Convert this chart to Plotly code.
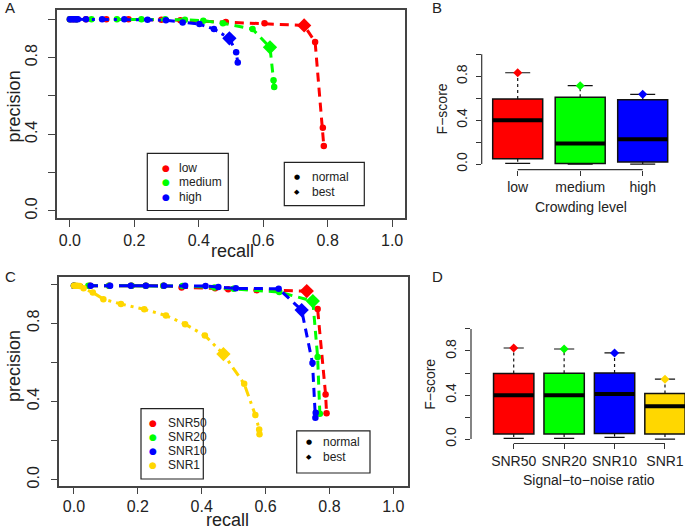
import plotly.graph_objects as go

W, H = 685, 531
FONT = "Liberation Sans"
TXT = "#222222"
RED, GREEN, BLUE, GOLD = "#FF0000", "#00FF00", "#0000FF", "#FFD700"

# ---------------- Panel A: precision / recall by crowding level ----------------
low_recall = [0.0, 0.01, 0.02, 0.05, 0.113, 0.182, 0.284, 0.343, 0.484, 0.604, 0.727, 0.761, 0.785, 0.788]
low_precision = [1.0, 1.0, 1.0, 1.0, 1.0, 1.0, 0.998, 0.995, 0.986, 0.979, 0.968, 0.882, 0.434, 0.339]
low_best = 10

medium_recall = [0.0, 0.02, 0.067, 0.146, 0.222, 0.296, 0.357, 0.414, 0.475, 0.567, 0.621, 0.632, 0.634]
medium_precision = [1.0, 1.0, 1.0, 1.0, 1.0, 1.0, 0.998, 0.993, 0.98, 0.949, 0.854, 0.682, 0.647]
medium_best = 10

high_recall = [0.0, 0.005, 0.01, 0.015, 0.02, 0.025, 0.05, 0.1, 0.169, 0.241, 0.298, 0.35, 0.402, 0.447, 0.495, 0.516, 0.521]
high_precision = [1.0, 1.0, 1.0, 1.0, 1.0, 1.0, 1.0, 1.0, 1.0, 0.998, 0.995, 0.984, 0.975, 0.949, 0.901, 0.828, 0.774]
high_best = 14

# ---------------- Panel C: precision / recall by signal-to-noise ratio ----------------
snr50_recall = [0.0, 0.05, 0.11, 0.18, 0.225, 0.28, 0.337, 0.442, 0.483, 0.572, 0.729, 0.763, 0.788, 0.791]
snr50_precision = [0.992, 0.992, 0.992, 0.992, 0.992, 0.992, 0.983, 0.978, 0.973, 0.969, 0.964, 0.872, 0.435, 0.339]
snr50_best = 10

snr20_recall = [0.0, 0.045, 0.11, 0.18, 0.225, 0.28, 0.34, 0.44, 0.5, 0.643, 0.748, 0.763, 0.77]
snr20_precision = [0.992, 0.992, 0.992, 0.992, 0.992, 0.992, 0.99, 0.982, 0.976, 0.959, 0.913, 0.627, 0.337]
snr20_best = 10

snr10_recall = [0.0, 0.052, 0.113, 0.178, 0.225, 0.282, 0.348, 0.412, 0.452, 0.507, 0.641, 0.713, 0.747, 0.757, 0.756]
snr10_precision = [0.992, 0.992, 0.992, 0.992, 0.992, 0.992, 0.992, 0.99, 0.985, 0.978, 0.976, 0.867, 0.596, 0.342, 0.317]
snr10_best = 11

snr1_recall = [0.0, 0.005, 0.01, 0.018, 0.03, 0.059, 0.092, 0.147, 0.22, 0.288, 0.348, 0.41, 0.468, 0.533, 0.568, 0.58, 0.581]
snr1_precision = [0.992, 0.992, 0.992, 0.99, 0.978, 0.957, 0.923, 0.898, 0.871, 0.839, 0.795, 0.737, 0.642, 0.49, 0.33, 0.257, 0.232]
snr1_best = 12

# ---------------- Panel B: F-score by crowding level ----------------
crowd_labels = ["low", "medium", "high"]
crowd_lower = [0.006, 0.0, 0.0]
crowd_q1 = [0.048, 0.004, 0.018]
crowd_median = [0.40, 0.188, 0.227]
crowd_q3 = [0.593, 0.608, 0.587]
crowd_upper = [0.832, 0.714, 0.635]
crowd_colors = [RED, GREEN, BLUE]

# ---------------- Panel D: F-score by signal-to-noise ratio ----------------
snr_labels = ["SNR50", "SNR20", "SNR10", "SNR1"]
snr_lower = [0.006, 0.006, 0.015, 0.0]
snr_q1 = [0.045, 0.045, 0.051, 0.045]
snr_median = [0.397, 0.397, 0.409, 0.298]
snr_q3 = [0.595, 0.598, 0.601, 0.415]
snr_upper = [0.827, 0.818, 0.782, 0.544]
snr_colors = [RED, GREEN, BLUE, GOLD]

unit_ticks = [0.0, 0.2, 0.4, 0.6, 0.8, 1.0]
x_tick_text = ["0.0", "0.2", "0.4", "0.6", "0.8", "1.0"]
y_tick_text = ["0.0", "", "0.4", "", "0.8", ""]


def dom_x(p0, p1):
    return [p0 / W, p1 / W]


def dom_y(top, bottom):
    return [1 - bottom / H, 1 - top / H]


fig = go.Figure()

# ---------- curve panels ----------
def add_curves(series, xa, ya):
    for rec, prec, best, color, dash in series:
        fig.add_trace(go.Scatter(
            x=rec, y=prec, mode="lines+markers", xaxis=xa, yaxis=ya,
            line=dict(color=color, width=3, dash=dash),
            marker=dict(color=color, size=6.5), showlegend=False, hoverinfo="skip"))
        fig.add_trace(go.Scatter(
            x=[rec[best]], y=[prec[best]], mode="markers", xaxis=xa, yaxis=ya,
            marker=dict(color=color, size=11, symbol="diamond"),
            showlegend=False, hoverinfo="skip"))


add_curves([
    (low_recall, low_precision, low_best, RED, "9px,6px"),
    (medium_recall, medium_precision, medium_best, GREEN, "9px,6px"),
    (high_recall, high_precision, high_best, BLUE, "3px,5px,9px,5px"),
], "x", "y")

add_curves([
    (snr50_recall, snr50_precision, snr50_best, RED, "9px,6px"),
    (snr20_recall, snr20_precision, snr20_best, GREEN, "9px,6px"),
    (snr10_recall, snr10_precision, snr10_best, BLUE, "9px,6px"),
    (snr1_recall, snr1_precision, snr1_best, GOLD, "10px,5px,3px,5px"),
], "x3", "y3")

# ---------- box panels ----------
def add_boxes(lower, q1, med, q3, upper, colors, xa, ya):
    n = len(med)
    for i in range(n):
        pos = i + 1
        # dashed whiskers
        fig.add_trace(go.Scatter(
            x=[pos, pos, None, pos, pos], y=[q3[i], upper[i], None, q1[i], lower[i]],
            mode="lines", xaxis=xa, yaxis=ya,
            line=dict(color="#111111", width=1.2, dash="3px,3px"),
            showlegend=False, hoverinfo="skip"))
        # staples
        fig.add_trace(go.Scatter(
            x=[pos - 0.2, pos + 0.2, None, pos - 0.2, pos + 0.2],
            y=[upper[i], upper[i], None, lower[i], lower[i]],
            mode="lines", xaxis=xa, yaxis=ya,
            line=dict(color="#111111", width=1.2),
            showlegend=False, hoverinfo="skip"))
        fig.add_trace(go.Box(
            x=[pos], q1=[q1[i]], median=[med[i]], q3=[q3[i]],
            lowerfence=[q1[i]], upperfence=[q3[i]], width=0.8,
            fillcolor=colors[i], line=dict(color="#111111", width=1.5),
            whiskerwidth=0, boxpoints=False, xaxis=xa, yaxis=ya,
            showlegend=False, hoverinfo="skip"))
        # thick median
        fig.add_trace(go.Scatter(
            x=[pos - 0.4, pos + 0.4], y=[med[i], med[i]], mode="lines",
            xaxis=xa, yaxis=ya, line=dict(color="#000000", width=4),
            showlegend=False, hoverinfo="skip"))
        # best score diamond
        fig.add_trace(go.Scatter(
            x=[pos], y=[upper[i]], mode="markers", xaxis=xa, yaxis=ya,
            marker=dict(color=colors[i], size=7, symbol="diamond"),
            showlegend=False, hoverinfo="skip"))


add_boxes(crowd_lower, crowd_q1, crowd_median, crowd_q3, crowd_upper, crowd_colors, "x2", "y2")
add_boxes(snr_lower, snr_q1, snr_median, snr_q3, snr_upper, snr_colors, "x4", "y4")

# ---------- axes ----------
frame = dict(showline=True, mirror=True, linecolor="#444444", linewidth=1.5,
             showgrid=False, zeroline=False, ticks="outside", ticklen=7,
             tickcolor="#444444", tickwidth=1)
tickfont16 = dict(family=FONT, size=16, color=TXT)
tickfont14 = dict(family=FONT, size=14, color=TXT)

layout = dict(
    width=W, height=H, autosize=False,
    margin=dict(l=0, r=0, t=0, b=0),
    paper_bgcolor="white", plot_bgcolor="white",
    xaxis=dict(domain=dom_x(57, 405), range=[-0.04, 1.04], tickvals=unit_ticks,
               ticktext=x_tick_text, tickfont=tickfont16, ticklabelstandoff=0,
               anchor="y", **frame),
    yaxis=dict(domain=dom_y(10, 219), range=[-0.036, 1.049], tickvals=unit_ticks,
               ticktext=y_tick_text, tickfont=tickfont16, tickangle=-90,
               ticklabelstandoff=5, anchor="x", **frame),
    xaxis3=dict(domain=dom_x(59.3, 408.3), range=[-0.046, 1.047], tickvals=unit_ticks,
                ticktext=x_tick_text, tickfont=tickfont16, ticklabelstandoff=-1,
                anchor="y3", **frame),
    yaxis3=dict(domain=dom_y(279, 488.3), range=[-0.03, 1.034], tickvals=unit_ticks,
                ticktext=y_tick_text, tickfont=tickfont16, tickangle=-90,
                ticklabelstandoff=5, anchor="x3", **frame),
)

box_axis = dict(showline=False, showgrid=False, zeroline=False, ticks="outside",
                ticklen=5, tickcolor="#333333", tickwidth=1.2)
n_b = len(crowd_labels)
n_d = len(snr_labels)
layout.update(
    xaxis2=dict(domain=dom_x(481.7, 679.2), range=[0.424, 3.584],
                tickvals=list(range(1, n_b + 1)), ticktext=crowd_labels,
                tickfont=tickfont14, anchor="y2", **box_axis),
    yaxis2=dict(domain=dom_y(50.2, 170.5), range=[-0.05, 1.04], tickvals=unit_ticks,
                ticktext=y_tick_text, tickfont=tickfont14, tickangle=-90,
                ticklabelstandoff=3, anchor="x2", **box_axis),
    xaxis4=dict(domain=dom_x(471, 685), range=[0.153, 4.397],
                tickvals=list(range(1, n_d + 1)), ticktext=snr_labels,
                tickfont=tickfont14, anchor="y4", **box_axis),
    yaxis4=dict(domain=dom_y(326.4, 446), range=[-0.04, 1.04], tickvals=unit_ticks,
                ticktext=y_tick_text, tickfont=tickfont14, tickangle=-90,
                ticklabelstandoff=3, anchor="x4", **box_axis),
)
fig.update_layout(**layout)

# R-style partial axis lines for box panels
shapes = []
for xa, ya, n in (("x2", "y2", n_b), ("x4", "y4", n_d)):
    shapes.append(dict(type="line", xref=xa, yref=ya + " domain", x0=1, x1=n, y0=0, y1=0,
                       line=dict(color="#333333", width=1.2)))
    shapes.append(dict(type="line", xref=xa + " domain", yref=ya, x0=0, x1=0, y0=0, y1=1,
                       line=dict(color="#333333", width=1.2)))

# legend boxes (pixel layout)
legend_boxes = [(147.3, 154.3, 228.3, 211.7), (284.3, 163.3, 364.3, 206.7),
                (141, 411, 203.3, 481.7), (296.7, 433.3, 370, 475.7)]
for x0, y0, x1, y1 in legend_boxes:
    shapes.append(dict(type="rect", xref="paper", yref="paper",
                       x0=x0 / W, x1=x1 / W, y0=1 - y1 / H, y1=1 - y0 / H,
                       line=dict(color="#222222", width=1.2), fillcolor="rgba(0,0,0,0)"))
fig.update_layout(shapes=shapes)

ann = []


def text(s, x, y, size, angle=0, xanchor="center", color=TXT, family=FONT):
    ann.append(dict(text=s, x=x / W, y=1 - y / H, xref="paper", yref="paper",
                    showarrow=False, textangle=angle, xanchor=xanchor, yanchor="middle",
                    font=dict(family=family, size=size, color=color)))


# panel letters
for letter, x, y in (("A", 10, 8), ("B", 437, 8), ("C", 10, 278), ("D", 437, 278)):
    text(letter, x, y, 15)

# axis titles
text("precision", 14, 107, 18, -90)
text("recall", 232, 252, 18)
text("precision", 14, 368, 18, -90)
text("recall", 227.5, 523, 18)
text("F−score", 442, 110, 14, -90)
text("Crowding level", 581, 208, 14)
text("F−score", 430, 387, 14, -90)
text("Signal−to−noise ratio", 589, 482.5, 14)

# colour legends
legA = [("low", RED), ("medium", GREEN), ("high", BLUE)]
for i, (lab, col) in enumerate(legA):
    y = 169.3 + i * 14.2
    text("●", 165.7, y, 9, color=col, family="DejaVu Sans")
    text(lab, 177.3, y, 12, xanchor="left")
legC = [("SNR50", RED), ("SNR20", GREEN), ("SNR10", BLUE), ("SNR1", GOLD)]
for i, (lab, col) in enumerate(legC):
    y = 425 + i * 14.2
    text("●", 152.7, y, 9, color=col, family="DejaVu Sans")
    text(lab, 165.7, y, 12, xanchor="left")

# symbol legends
for sx, tx, y0 in ((296.7, 310, 178.3), (309, 321, 445)):
    text("●", sx, y0, 7, color="#000000", family="DejaVu Sans")
    text("normal", tx, y0, 12, xanchor="left")
    text("◆", sx, y0 + 14.5, 7, color="#000000", family="DejaVu Sans")
    text("best", tx, y0 + 14.5, 12, xanchor="left")

fig.update_layout(annotations=ann)
fig.write_html("out.html", config={"displayModeBar": False},
               post_script="document.body.style.margin='0';")
